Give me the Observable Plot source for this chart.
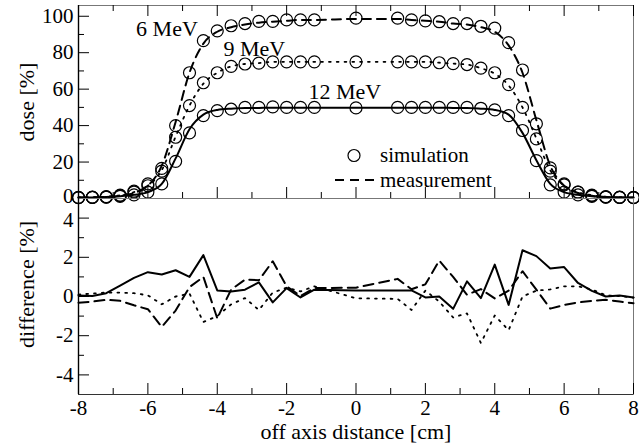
<!DOCTYPE html>
<html><head><meta charset="utf-8">
<script src="https://cdn.jsdelivr.net/npm/d3@7"></script>
<script src="https://cdn.jsdelivr.net/npm/@observablehq/plot@0.6"></script>
<style>
body{margin:0;background:#fff;}
#wrap{position:relative;width:639px;height:448px;font-family:"Liberation Serif","DejaVu Serif","Tinos","Times New Roman",Times,serif;}
#wrap svg{position:absolute;left:0;overflow:visible;}
#wrap svg text{font-family:"Liberation Serif","DejaVu Serif","Tinos","Times New Roman",Times,serif !important;}
</style></head><body><div id="wrap"></div>
<script>
// ---- data ----
const xs = [-8,-7.6,-7.2,-6.8,-6.4,-6,-5.6,-5.2,-4.8,-4.4,-4,-3.6,-3.2,-2.8,-2.4,-2,-1.6,-1.2,0,1.2,1.6,2,2.4,2.8,3.2,3.6,4,4.4,4.8,5.2,5.6,6,6.4,6.8,7.2,7.6,8];
const sim6  = [0.5,0.6,0.8,1.6,4,8,16.5,40,69,86.6,92,94.8,96,97.2,97.2,98,98,98,99,99,98,97.5,97,96,96,94.5,93.5,85.5,70.5,41,16.8,8,3.5,1.6,0.8,0.6,0.5];
const sim9  = [0.6,0.7,1,1.8,3.5,7,15,33.6,51,63.5,69,72.5,73.8,74.3,75,75,75,75,75,75,75,75,74.5,74,73.5,71.5,69,62.5,50,32.7,15,7.5,3.5,1.8,1,0.7,0.6];
const sim12 = [0.5,0.6,0.8,1.2,2,3.5,8,20.4,36,45.5,48.2,49,50,50,50.3,50,50,50,49.7,50,50,50,50,50,50,49.5,48.6,45.5,37.3,20.8,7.5,3.5,2,1.2,0.8,0.6,0.5];
const meas6  = [0.5,0.6,0.8,1.5,3,7,18,42,69,85,91.5,94,95.5,96.5,97,97.5,98,98,98.5,98.5,98,97.5,97,96,95.5,94,91.5,84,69,43,18,7,3,1.5,0.8,0.6,0.5];
const meas9  = [0.6,0.7,1,1.8,3.5,7,15.5,34,51,63,69,72.5,73.8,74.3,75,75,75,75,75,75,75,75,74.5,74,73.5,71.5,68.5,62,50,33,15.5,7,3.5,1.8,1,0.7,0.6];
const meas12 = [0.5,0.6,0.8,1.2,2,3.5,8,22,38,46,48.6,49.3,49.6,49.7,49.8,49.8,49.8,49.8,49.8,49.8,49.8,49.8,49.8,49.7,49.6,49.3,48.6,46,36,21,8,3.5,2,1.2,0.8,0.6,0.5];
const diffSolid  = [0.05,0.03,0.17,0.55,0.95,1.24,1.12,1.34,1.0,2.11,0.31,0.26,0.35,0.72,-0.3,0.43,-0.05,0.35,0.3,0.3,0.31,-0.05,0.0,-0.63,0.77,-0.08,1.63,-0.43,2.36,2.06,1.43,1.5,0.69,0.29,0.0,0.05,-0.05];
const diffDashed = [-0.32,-0.26,-0.17,-0.22,-0.45,-0.65,-1.55,-0.72,0.48,1.0,-1.11,0.35,0.86,0.83,1.8,0.52,0.03,0.43,0.45,0.9,0.37,0.62,1.83,1.0,0.09,0.38,-0.1,0.3,1.29,0.35,-0.62,-0.43,-0.3,-0.22,-0.17,-0.26,-0.34];
const diffDotted = [0.1,0.15,0.2,0.2,0.17,0.06,-0.4,0.0,0.15,-1.3,-1.0,-0.4,-0.08,-0.69,0.2,0.45,0.26,0.52,-0.09,-0.12,-0.69,0.3,-0.26,-1.07,-0.86,-2.37,-0.97,-1.72,0.0,0.3,0.36,0.52,0.52,0.36,0.06,0.02,-0.06];
const energyLabels = ["6 MeV","9 MeV","12 MeV"];
const energyLabelX = [-6.34,-3.82,-1.37];
const energyLabelY = [89.3,78.4,54.8];
const xMajor = [-8,-6,-4,-2,0,2,4,6,8];
const xMinor = [-7,-5,-3,-1,1,3,5,7];
const doseMajor = [0,20,40,60,80,100];
const doseMinor = [10,30,50,70,90];
const diffMajor = [-4,-2,0,2,4];
const diffMinor = [-3,-1,1,3];
const xTitle = "off axis distance [cm]";
const doseTitle = "dose [%]";
const diffTitle = "difference [%]";
const legendLabels = ["simulation","measurement"];

// ---- layout ----
const FONT = '"Liberation Serif","DejaVu Serif","Tinos","Times New Roman",Times,serif';
const W = 639, ML = 78, MR = 6;
const FW = W - ML - MR;
const xDomain = [-8, 8];
const rows = xs.map((x,i)=>({x, s6:sim6[i], s9:sim9[i], s12:sim12[i], m6:meas6[i], m9:meas9[i], m12:meas12[i], dA:diffSolid[i], dB:diffDashed[i], dC:diffDotted[i]}));
const labelRows = energyLabels.map((t,i)=>({t, x:energyLabelX[i], y:energyLabelY[i]}));
const fmt = d => String(d);
const wrap = document.getElementById("wrap");

function frameTicks(FH, yMajor, yMinor, topTicks, bottomTicks){
  const m = [
    Plot.tickY(yMajor, {y:d=>d, insetRight: FW-11, stroke:"black"}),
    Plot.tickY(yMinor, {y:d=>d, insetRight: FW-6, stroke:"black"})
  ];
  if (topTicks) m.push(
    Plot.tickX(xMajor, {x:d=>d, insetBottom: FH-11, stroke:"black"}),
    Plot.tickX(xMinor, {x:d=>d, insetBottom: FH-6, stroke:"black"}));
  if (bottomTicks) m.push(
    Plot.tickX(xMajor, {x:d=>d, insetTop: FH-11, stroke:"black"}),
    Plot.tickX(xMinor, {x:d=>d, insetTop: FH-6, stroke:"black"}));
  return m;
}

// ---- top panel ----
const topH = 198, topMT = 5;
const topPlot = Plot.plot({
  width: W, height: topH, marginTop: topMT, marginBottom: 0, marginLeft: ML, marginRight: MR,
  x: {domain: xDomain, axis: null},
  y: {domain: [0, 105.9], label: null, axis: null},
  style: {fontFamily: FONT, fontSize: "21px", background: "transparent", overflow: "visible", color: "black"},
  marks: [
    Plot.frame({stroke: "#777"}),
    Plot.ruleX([xDomain[0]], {stroke: "black", strokeWidth: 1.4}),
    ...frameTicks(topH - topMT, doseMajor, doseMinor, true, true),
    Plot.axisY(doseMajor.slice(1), {tickSize: 0, tickPadding: 5, tickFormat: fmt, fontSize: 21, label: null}),
    Plot.axisY(doseMajor.slice(0, 1), {tickSize: 0, tickPadding: 5, tickFormat: fmt, fontSize: 21, label: null, dy: -2}),
    Plot.text([doseTitle], {frameAnchor: "left", rotate: -90, dx: -45, textAnchor: "middle", lineAnchor: "bottom", fontSize: 22}),
    Plot.line(rows, {x: "x", y: "m6", curve: "monotone-x", strokeWidth: 2, strokeDasharray: "9,6"}),
    Plot.line(rows, {x: "x", y: "m9", curve: "monotone-x", strokeWidth: 1.8, strokeDasharray: "1.8,6"}),
    Plot.line(rows, {x: "x", y: "m12", curve: "monotone-x", strokeWidth: 2}),
    Plot.dot(rows, {x: "x", y: "s6", r: 6, stroke: "black", strokeWidth: 1.2, fill: "none"}),
    Plot.dot(rows, {x: "x", y: "s9", r: 6, stroke: "black", strokeWidth: 1.2, fill: "none"}),
    Plot.dot(rows, {x: "x", y: "s12", r: 6, stroke: "black", strokeWidth: 1.2, fill: "none"}),
    Plot.text(labelRows, {x: "x", y: "y", text: "t", textAnchor: "start", lineAnchor: "bottom", fontSize: 22})
  ]
});
topPlot.style.top = "0px";
wrap.appendChild(topPlot);

// ---- bottom panel ----
const botTop = 198, botH = 250, botMB = 54;
const botPlot = Plot.plot({
  width: W, height: botH, marginTop: 0, marginBottom: botMB, marginLeft: ML, marginRight: MR,
  x: {domain: xDomain, label: null},
  y: {domain: [-5, 5], label: null},
  style: {fontFamily: FONT, fontSize: "21px", background: "transparent", overflow: "visible", color: "black"},
  marks: [
    Plot.frame({stroke: "#777"}),
    Plot.ruleX([xDomain[0]], {stroke: "black", strokeWidth: 1.4}),
    Plot.ruleY([-5], {stroke: "#333", strokeWidth: 1.2}),
    ...frameTicks(botH - botMB, diffMajor, diffMinor, false, true),
    Plot.axisY(diffMajor.slice(0, 4), {tickSize: 0, tickPadding: 5, tickFormat: fmt, fontSize: 21, label: null}),
    Plot.axisY(diffMajor.slice(4), {tickSize: 0, tickPadding: 5, tickFormat: fmt, fontSize: 21, label: null, dy: 2}),
    Plot.axisX(xMajor, {tickSize: 0, tickPadding: 6, tickFormat: fmt, fontSize: 21, label: null}),
    Plot.text([diffTitle], {frameAnchor: "left", rotate: -90, dx: -45, dy: -12, textAnchor: "middle", lineAnchor: "bottom", fontSize: 22}),
    Plot.text([xTitle], {frameAnchor: "bottom", dy: 44, lineAnchor: "bottom", fontSize: 22}),
    Plot.line(rows, {x: "x", y: "dA", strokeWidth: 2}),
    Plot.line(rows, {x: "x", y: "dB", strokeWidth: 2, strokeDasharray: "10,6"}),
    Plot.line(rows, {x: "x", y: "dC", strokeWidth: 1.8, strokeDasharray: "1.8,6"})
  ]
});
botPlot.style.top = botTop + "px";
wrap.appendChild(botPlot);

// ---- legend (inside top panel) ----
const ns = "http://www.w3.org/2000/svg";
const lg = document.createElementNS(ns, "svg");
lg.setAttribute("width", W); lg.setAttribute("height", 448);
lg.style.top = "0px"; lg.style.pointerEvents = "none";
lg.setAttribute("font-family", FONT);
const c = document.createElementNS(ns, "circle");
c.setAttribute("cx", 354); c.setAttribute("cy", 155.5); c.setAttribute("r", 6);
c.setAttribute("fill", "none"); c.setAttribute("stroke", "black"); c.setAttribute("stroke-width", 1.2);
lg.appendChild(c);
const ln = document.createElementNS(ns, "line");
ln.setAttribute("x1", 335); ln.setAttribute("x2", 375); ln.setAttribute("y1", 180); ln.setAttribute("y2", 180);
ln.setAttribute("stroke", "black"); ln.setAttribute("stroke-width", 2); ln.setAttribute("stroke-dasharray", "9,6");
lg.appendChild(ln);
legendLabels.forEach((t, i) => {
  const tx = document.createElementNS(ns, "text");
  tx.setAttribute("x", 380); tx.setAttribute("y", i === 0 ? 162 : 187);
  tx.setAttribute("font-size", 21); tx.textContent = t;
  lg.appendChild(tx);
});
wrap.appendChild(lg);
</script></body></html>
